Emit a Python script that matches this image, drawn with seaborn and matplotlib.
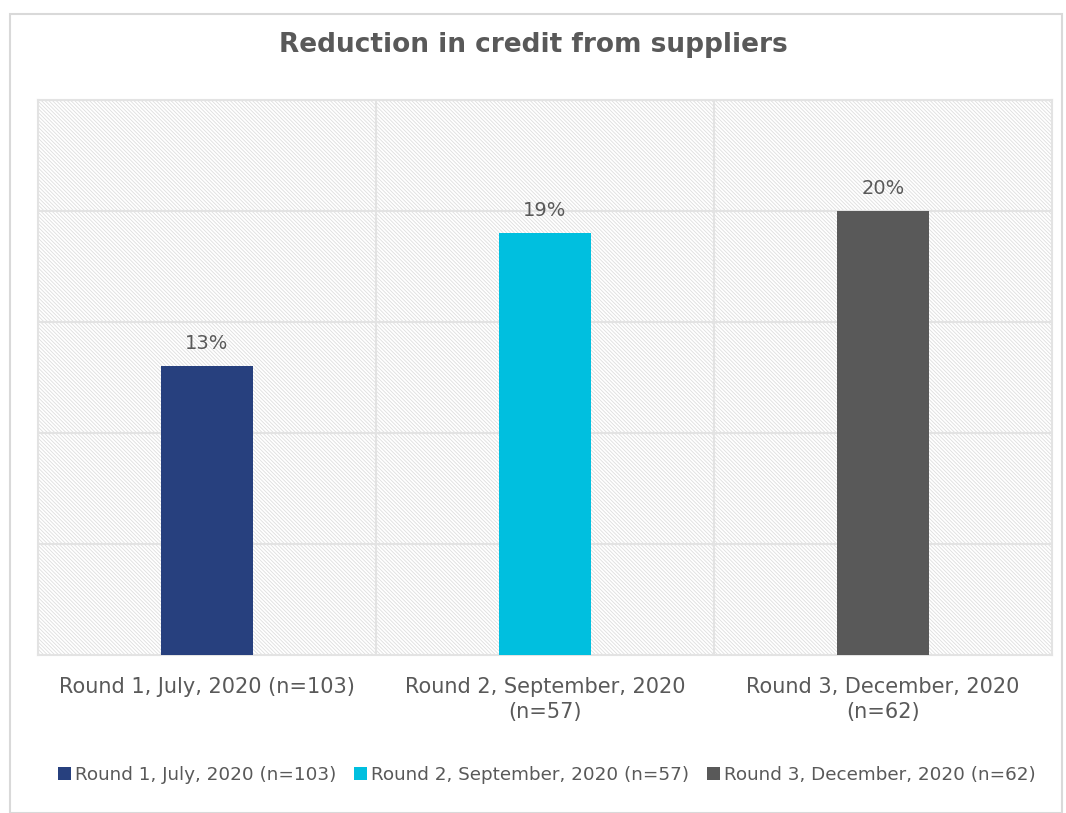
import matplotlib
matplotlib.use("Agg")
import matplotlib.pyplot as plt
import seaborn as sns
import pandas as pd
from matplotlib.patches import Rectangle, Patch

categories = ["Round 1, July, 2020 (n=103)", "Round 2, September, 2020 (n=57)", "Round 3, December, 2020 (n=62)"]
tick_labels = ["Round 1, July, 2020 (n=103)", "Round 2, September, 2020\n(n=57)", "Round 3, December, 2020\n(n=62)"]
values = [13, 19, 20]
colors = ["#27407E", "#00BFDF", "#595959"]
title = "Reduction in credit from suppliers"

sns.set_theme(style="white")
plt.rcParams['font.family'] = ['DejaVu Sans']
plt.rcParams['hatch.linewidth'] = 0.6

df = pd.DataFrame({"cat": categories, "val": values})

fig = plt.figure(figsize=(10.66, 8.13), dpi=100)
fig.patches.append(Rectangle((10/1066, 0), (1062-10)/1066, (813-14)/813, transform=fig.transFigure,
                             fill=False, edgecolor="#d9d9d9", linewidth=1.5))
ax = fig.add_axes([38/1066, 1-655/813, (1052-38)/1066, (655-100)/813])

bg = Rectangle((0, 0), 1, 1, transform=ax.transAxes, facecolor="white", edgecolor="#dedede",
               hatch="\\" * 9, linewidth=0, zorder=0)
ax.add_patch(bg)

sns.barplot(data=df, x="cat", y="val", hue="cat", palette=colors, width=0.275,
            ax=ax, legend=False, saturation=1, zorder=3, linewidth=0)

ax.set_ylim(0, 25)
ax.set_xlim(-0.5, 2.5)
ax.set_yticks([0, 5, 10, 15, 20, 25])
ax.set_yticklabels([])
ax.tick_params(axis='y', length=0)
ax.set_xticks([0, 1, 2])
ax.set_xticklabels(tick_labels, fontsize=15, color="#595959", linespacing=1.3)
ax.tick_params(axis='x', length=0, pad=16)
for y in [5, 10, 15, 20, 25]:
    ax.axhline(y, color="#e3e3e3", linewidth=1.5, zorder=1)
for x in [0.5, 1.5]:
    ax.axvline(x, color="#e3e3e3", linewidth=1.5, zorder=1)
for s in ax.spines.values():
    s.set_color("#e3e3e3")
    s.set_linewidth(1.5)
ax.set_xlabel("")
ax.set_ylabel("")

for i, v in enumerate(values):
    ax.text(i, v + 0.6, f"{v}%", ha="center", va="bottom", fontsize=14, color="#595959", zorder=4)

fig.text(0.5, 1-45/813, title, ha="center", va="center", fontsize=19, fontweight="bold", color="#595959")

handles = [Patch(facecolor=c, edgecolor='none') for c in colors]
fig.legend(handles, categories, loc="center", bbox_to_anchor=(0.513, 1-775/813), ncol=3, frameon=False,
           fontsize=13.2, handlelength=0.7, handleheight=0.7, handletextpad=0.2, columnspacing=1.0,
           labelcolor="#595959")

fig.savefig("out.png", dpi=100)
